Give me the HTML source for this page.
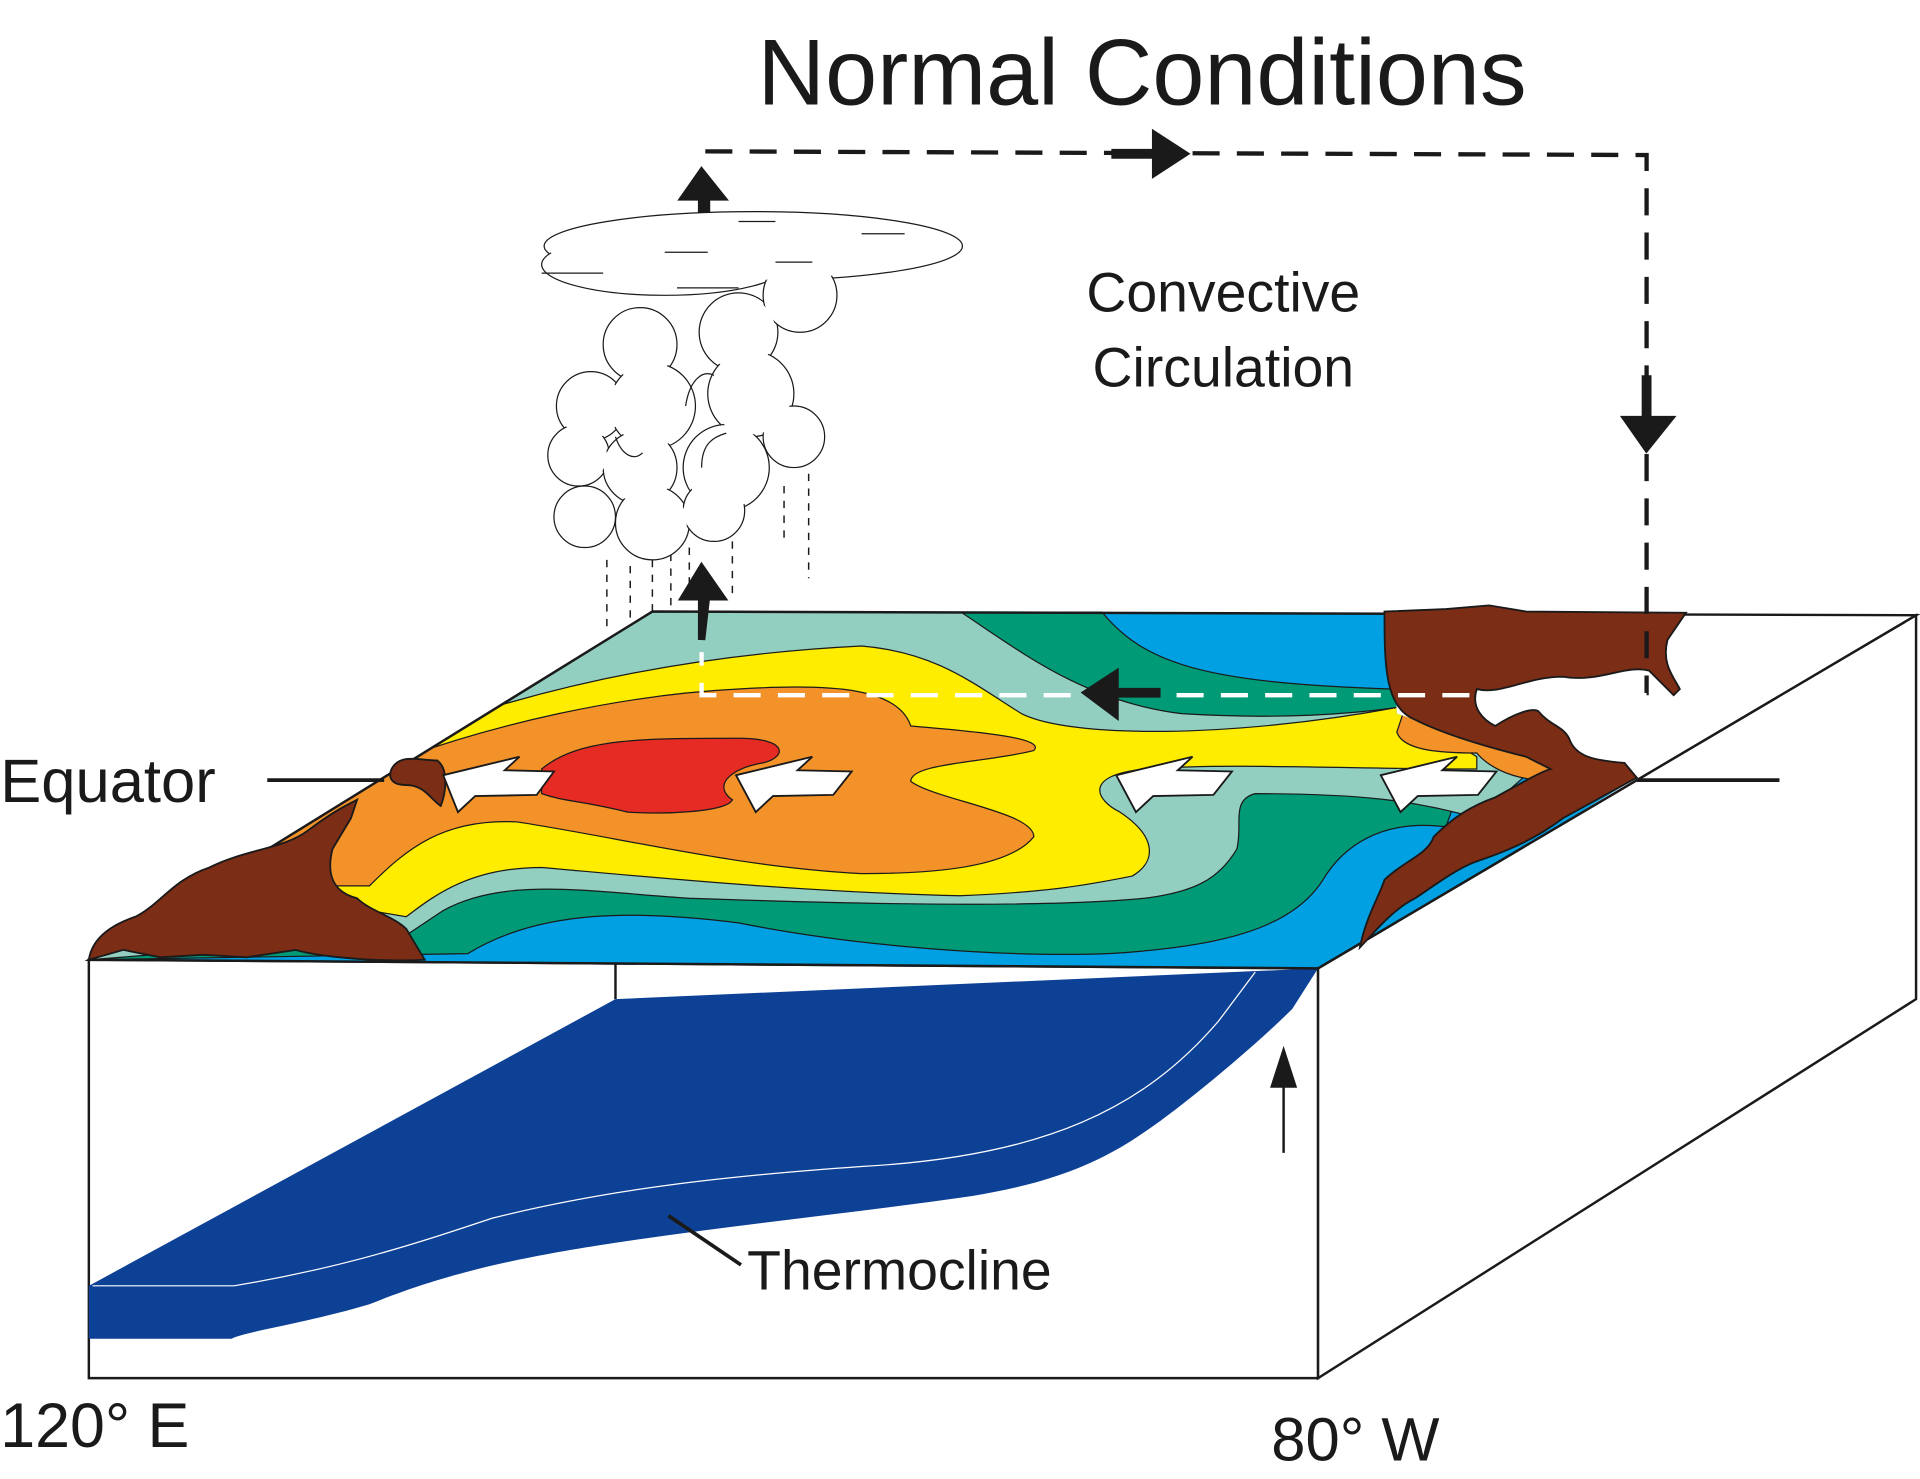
<!DOCTYPE html>
<html><head><meta charset="utf-8"><style>
html,body{margin:0;padding:0;background:#fff;}
svg{display:block;}
text{font-family:"Liberation Sans",sans-serif;fill:#1a1a1a;}
</style></head><body>
<svg width="1920" height="1479" viewBox="0 0 1560 1202" xmlns="http://www.w3.org/2000/svg">
<defs>
<clipPath id="surf"><path d="M72,780 L530,497 L1130,497 L1135,580 L1240,615 L1330,632 L1105,770 L1071,787 Z"/></clipPath>
</defs>
<text x="928" y="85" font-size="76" text-anchor="middle">Normal Conditions</text>
<text x="994" y="253" font-size="45" text-anchor="middle">Convective</text>
<text x="994" y="314" font-size="45" text-anchor="middle">Circulation</text>

<g fill="#fff" stroke="#1a1a1a" stroke-width="2">
<path d="M72,780 L1071,787 L1071,1120 L72,1120 Z"/>
<path d="M1071,787 L1557,500 L1557,812 L1071,1120 Z"/>
</g>
<line x1="500" y1="782" x2="500" y2="812" stroke="#1a1a1a" stroke-width="2"/>
<path fill="#0d4196" d="M72,1045 L500,812 L1071,787 L1050,820 C1020,850 960,900 930,920 C880,955 830,965 790,972 C700,985 600,995 500,1010 C400,1025 350,1040 300,1060 C250,1075 200,1082 188,1088 L72,1088 Z"/>
<path fill="none" stroke="#fff" stroke-width="1" d="M75,1045 L190,1045 C280,1030 340,1010 400,990 C500,965 600,955 700,948 C850,940 930,900 990,830 L1020,790"/>
<g>
<line x1="1043" y1="875" x2="1043" y2="937" stroke="#1a1a1a" stroke-width="2"/>
<path d="M1043,850 L1032,884 L1054,884 Z" fill="#1a1a1a"/>
</g>

<path d="M72,780 L530,497 L1557,500 L1071,787 Z" fill="#fff" stroke="none"/>
<g clip-path="url(#surf)" stroke="#1a1a1a" stroke-width="1">
<path fill="#00a0e3" d="M72,780 L530,497 L1557,500 L1071,787 Z"/>
<path fill="#009a77" d="M530,497 L895,497 C930,540 980,555 1130,560 L1200,600 L1175,672 C1120,665 1090,690 1075,715 C1050,755 990,770 900,775 C820,778 700,770 600,750 C520,740 440,738 380,775 L72,780 Z"/>
<path fill="#93cfc0" d="M530,497 L780,497 C830,530 880,570 960,580 C1040,585 1100,580 1135,575 L1240,630 L1200,665 C1150,650 1100,645 1020,645 C1000,650 1010,670 1005,690 C990,715 970,725 930,730 C850,738 700,735 560,730 C480,725 410,712 360,740 L330,760 L72,780 Z"/>
<path fill="#ffed00" d="M400,575 C500,545 600,530 700,525 C760,530 790,555 830,580 C870,600 1000,600 1135,575 L1200,615 L1200,625 C1100,625 1000,620 930,625 C880,630 890,650 910,660 C940,680 940,700 920,712 C880,720 850,725 780,728 C650,725 520,712 440,705 C380,705 350,730 330,745 L300,740 L200,700 Z"/>
<path fill="#f39229" d="M330,615 C400,590 500,565 600,560 C680,555 730,560 740,590 C800,595 850,600 840,610 C800,620 740,620 740,635 C760,650 840,660 840,680 C820,705 760,710 700,710 C600,705 500,680 420,668 C360,665 330,690 300,720 L270,720 L200,700 Z"/>
<path fill="#f39229" d="M1140,580 C1160,578 1200,575 1230,600 C1260,615 1285,620 1280,630 C1250,640 1215,630 1200,612 C1170,612 1140,610 1135,595 Z"/>
<path fill="#e52b23" d="M440,625 C470,600 520,600 600,600 C640,600 640,615 620,620 C590,625 580,640 595,650 C590,660 540,662 510,660 C470,650 460,652 440,645 Z"/>
</g>
<path d="M72,780 L530,497 L1557,500 L1071,787 Z" fill="none" stroke="#1a1a1a" stroke-width="2"/>

<g fill="#7b2d16" stroke="#1a1a1a" stroke-width="1.5">
<path d="M72,780 C75,760 95,750 110,745 C130,735 140,715 170,705 C200,690 230,690 250,675 C270,660 280,655 290,650 L285,665 L270,690 C265,710 270,725 290,730 C300,740 320,745 330,755 L345,780 C310,782 260,778 240,772 L200,778 L165,776 L130,778 L100,772 Z"/>
<path d="M318,625 C325,612 340,618 355,618 C365,625 362,645 358,655 C350,650 345,638 330,638 C318,638 315,632 318,625 Z"/>
<path d="M1125,497 L1175,495 L1210,492 L1240,497 L1370,498 L1355,520 C1350,540 1360,550 1365,560 L1360,565 L1340,545 C1320,540 1300,555 1270,550 C1240,550 1220,565 1200,560 C1195,575 1205,585 1215,590 C1230,580 1245,575 1250,578 C1260,590 1270,590 1275,600 C1280,615 1295,618 1320,620 L1330,632 L1270,665 C1250,680 1230,690 1200,700 C1185,705 1165,720 1150,730 C1130,740 1115,760 1105,770 C1110,745 1120,730 1125,715 C1140,700 1160,695 1165,680 C1180,665 1195,655 1215,648 C1230,640 1250,628 1260,625 L1240,615 C1200,605 1170,595 1150,585 C1125,575 1125,540 1125,497 Z"/>
</g>

<g fill="#fff" stroke="#1a1a1a" stroke-width="1.5">
<path transform="translate(360,615)" d="M0,15 L62,0 L50,11 L90,12 L76,31 L26,32 L12,45 Z"/>
<path transform="translate(598,615)" d="M0,15 L62,0 L50,11 L94,12 L79,31 L30,32 L16,45 Z"/>
<path transform="translate(907,615)" d="M0,15 L62,0 L50,11 L94,12 L79,31 L30,32 L16,45 Z"/>
<path transform="translate(1122,615)" d="M0,15 L62,0 L50,11 L94,12 L79,31 L30,32 L16,45 Z"/>
</g>

<g>
<path d="M573,123 L1338,126 L1338,565" fill="none" stroke="#1a1a1a" stroke-width="3.5" stroke-dasharray="22,14"/>
<path d="M1338,565 L570,565 L570,530" fill="none" stroke="#fff" stroke-width="3.5" stroke-dasharray="22,14"/>
<path d="M570,200 L570,160 L556,160 L570,140 L586,160 L574,160 L574,200 Z" fill="#1a1a1a" stroke="#1a1a1a" stroke-width="6"/>
<path d="M570,520 L570,485 L556,485 L570,462 L586,485 L574,485 Z" fill="#1a1a1a" stroke="#1a1a1a" stroke-width="6"/>
<path d="M903,125 L940,125 L940,112 L960,125 L940,138 L940,125" fill="#1a1a1a" stroke="#1a1a1a" stroke-width="8"/>
<path d="M1338,305 L1338,342 L1324,342 L1338,362 L1354,342 L1338,342" fill="#1a1a1a" stroke="#1a1a1a" stroke-width="8"/>
<path d="M943,563 L905,563 L905,550 L885,563 L905,578 L905,563" fill="#1a1a1a" stroke="#1a1a1a" stroke-width="8"/>
</g>

<g>
<g stroke="#1a1a1a" stroke-width="1.2" fill="none" stroke-dasharray="6,6">
<line x1="493" y1="455" x2="493" y2="510"/><line x1="512" y1="460" x2="512" y2="505"/>
<line x1="530" y1="455" x2="530" y2="500"/><line x1="545" y1="450" x2="545" y2="495"/>
<line x1="560" y1="445" x2="560" y2="490"/><line x1="595" y1="440" x2="595" y2="485"/>
<line x1="637" y1="395" x2="637" y2="440"/><line x1="657" y1="385" x2="657" y2="470"/>
</g>
<g fill="#fff" stroke="#1a1a1a" stroke-width="1">
<ellipse cx="612" cy="200" rx="170" ry="28"/>
<ellipse cx="540" cy="215" rx="100" ry="25"/>
<circle cx="520" cy="280" r="30"/><circle cx="600" cy="270" r="32"/><circle cx="650" cy="240" r="30"/>
<circle cx="480" cy="330" r="28"/><circle cx="530" cy="330" r="35"/><circle cx="610" cy="320" r="35"/><circle cx="645" cy="355" r="25"/>
<circle cx="470" cy="370" r="25"/><circle cx="520" cy="380" r="30"/><circle cx="590" cy="380" r="35"/>
<circle cx="475" cy="420" r="25"/><circle cx="530" cy="425" r="30"/><circle cx="580" cy="415" r="25"/>
</g>
<g fill="#fff">
<ellipse cx="612" cy="200" rx="168" ry="26"/>
<ellipse cx="540" cy="215" rx="98" ry="23"/>
<circle cx="520" cy="280" r="28"/><circle cx="600" cy="270" r="30"/><circle cx="650" cy="240" r="28"/>
<circle cx="480" cy="330" r="26"/><circle cx="530" cy="330" r="33"/><circle cx="610" cy="320" r="33"/><circle cx="645" cy="355" r="23"/>
<circle cx="470" cy="370" r="23"/><circle cx="520" cy="380" r="28"/><circle cx="590" cy="380" r="33"/>
<circle cx="475" cy="420" r="23"/><circle cx="530" cy="425" r="28"/><circle cx="580" cy="415" r="23"/>
</g>
<g stroke="#1a1a1a" stroke-width="1" fill="none">
<line x1="600" y1="180" x2="630" y2="180"/><line x1="700" y1="190" x2="735" y2="190"/>
<line x1="540" y1="205" x2="575" y2="205"/><line x1="630" y1="213" x2="660" y2="213"/>
<line x1="440" y1="222" x2="490" y2="222"/><line x1="550" y1="234" x2="600" y2="234"/>
<path d="M557,330 C560,310 570,300 580,305"/><path d="M500,355 C505,370 515,375 522,368"/>
<path d="M570,380 C570,360 580,355 590,352"/>
</g>
</g>

<text x="0" y="652" font-size="50">Equator</text>
<line x1="217" y1="634" x2="312" y2="634" stroke="#1a1a1a" stroke-width="3"/>
<line x1="1330" y1="634" x2="1446" y2="634" stroke="#1a1a1a" stroke-width="3"/>
<text x="0" y="1176" font-size="51">120° E</text>
<text x="1033" y="1187" font-size="50">80° W</text>
<line x1="543" y1="988" x2="602" y2="1028" stroke="#1a1a1a" stroke-width="3"/>
<text x="607" y="1048" font-size="45">Thermocline</text>
</svg>
</body></html>
